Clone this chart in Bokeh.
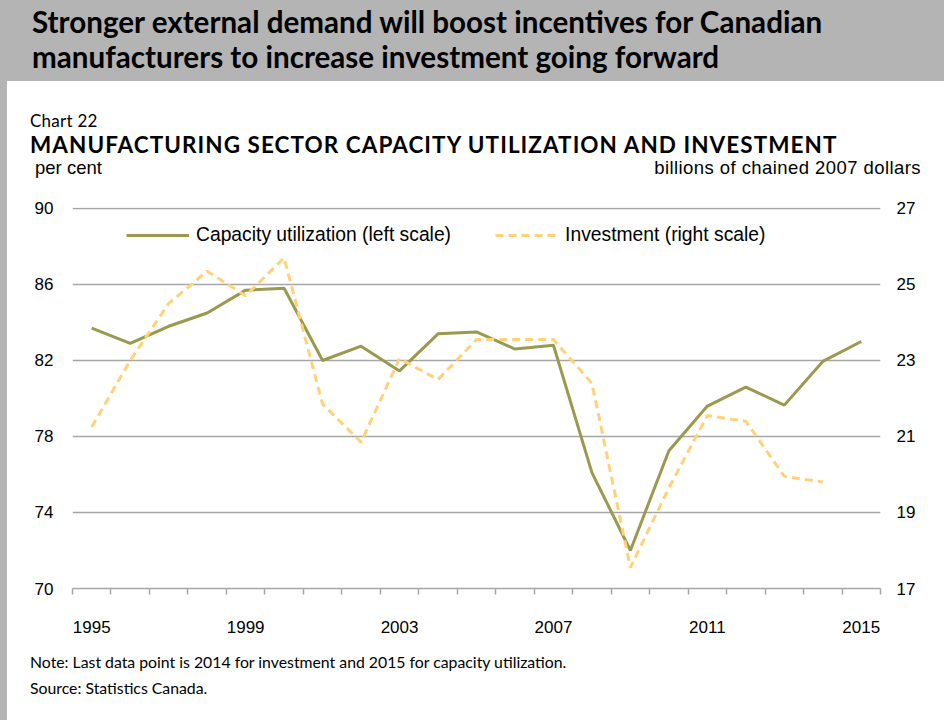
from bokeh.plotting import figure
from bokeh.models import Range1d, LinearAxis, FixedTicker, Div, Column
from bokeh.embed import file_html
from bokeh.resources import INLINE

years = list(range(1995, 2016))
capacity = [83.7, 82.9, 83.8, 84.5, 85.7, 85.8, 82.0, 82.75, 81.45, 83.4, 83.5,
            82.6, 82.8, 76.1, 72.0, 77.25, 79.6, 80.6, 79.65, 81.95, 83.0]
inv_years = list(range(1995, 2015))
investment = [21.25, 23.0, 24.5, 25.35, 24.7, 25.7, 21.85, 20.85, 23.05, 22.5,
              23.55, 23.55, 23.55, 22.4, 17.55, 19.65, 21.55, 21.4, 19.95, 19.8]
x_label_years = [1995, 1999, 2003, 2007, 2011, 2015]
left_ticks = [70, 74, 78, 82, 86, 90]
right_ticks = [17, 19, 21, 23, 25, 27]

header_lines = ["Stronger external demand will boost incentives for Canadian",
                "manufacturers to increase investment going forward"]
chart_no = "Chart 22"
chart_title = "MANUFACTURING SECTOR CAPACITY UTILIZATION AND INVESTMENT"
left_unit = "per cent"
right_unit = "billions of chained 2007 dollars"
note = "Note: Last data point is 2014 for investment and 2015 for capacity utilization."
source = "Source: Statistics Canada."

OLIVE = "#9a9a4e"
GOLD = "#ffd27a"
GRID = "#a6a6a6"
BAND = "#b4b4b4"
SANS = "Liberation Sans"
MYR = "Lato"


def span(text, left, top, size, font, weight="normal", right=None, ls=0):
    pos = f"right:{right}px;" if right is not None else f"left:{left}px;"
    return (f'<span style="position:absolute;{pos}top:{top}px;'
            f"font-family:'{font}';font-size:{size}px;font-weight:{weight};"
            f"letter-spacing:{ls}px;"
            f'line-height:1;white-space:nowrap;color:#000">{text}</span>')


def box(w, h, inner):
    return f'<div style="position:relative;width:{w}px;height:{h}px;overflow:visible">{inner}</div>'


# header band (page y 0..81)
hdr = Div(width=944, height=81, margin=0,
          text=box(944, 81,
                   span(header_lines[0], 32, 7, 29.6, MYR, "bold")
                   + span(header_lines[1], 32, 42, 29.6, MYR, "bold")))

# titles block (page y 81..190, page x from 7)
top_txt = Div(width=937, height=109, margin=0,
              text=box(937, 109,
                       span(chart_no, 23, 31.4, 17, MYR, ls=0.25)
                       + span(chart_title, 23, 52.5, 22.5, MYR, "bold", ls=1.05)
                       + span(left_unit, 28, 78.3, 18.5, SANS)
                       + span(right_unit, 0, 78.3, 18.5, SANS, right=23, ls=0.43)))

p = figure(width=937, height=460, output_backend="svg", toolbar_location=None,
           x_range=Range1d(1994.5, 2015.5), y_range=Range1d(70, 90.05),
           min_border_left=65, min_border_right=64, min_border_top=17,
           min_border_bottom=62, outline_line_color=None, margin=0)
p.extra_y_ranges = {"inv": Range1d(17, 27.025)}

p.xaxis.ticker = FixedTicker(ticks=x_label_years,
                             minor_ticks=[y - 0.5 for y in years] + [2015.5])
p.xaxis.major_tick_line_color = None
p.xaxis.major_tick_out = 0
p.xaxis.major_tick_in = 0
p.xaxis.minor_tick_line_color = GRID
p.xaxis.minor_tick_line_width = 1.5
p.xaxis.minor_tick_out = 6
p.xaxis.minor_tick_in = 0
p.xaxis.axis_line_color = GRID
p.xaxis.axis_line_width = 1.5
p.xaxis.major_label_standoff = 26
p.xaxis.major_label_text_font = SANS
p.xaxis.major_label_text_font_size = "17px"
p.xaxis.major_label_text_color = "#000000"

p.yaxis.ticker = FixedTicker(ticks=left_ticks)
p.yaxis.axis_line_color = None
p.yaxis.major_tick_line_color = None
p.yaxis.major_tick_out = 0
p.yaxis.major_tick_in = 0
p.yaxis.minor_tick_line_color = None
p.yaxis.major_label_standoff = 19
p.yaxis.major_label_text_font = SANS
p.yaxis.major_label_text_font_size = "17px"
p.yaxis.major_label_text_color = "#000000"

ra = LinearAxis(y_range_name="inv", ticker=FixedTicker(ticks=right_ticks),
                axis_line_color=None, major_tick_line_color=None,
                major_tick_out=0, major_tick_in=0,
                minor_tick_line_color=None, major_label_standoff=16,
                major_label_text_font=SANS, major_label_text_font_size="17px",
                major_label_text_color="#000000")
p.add_layout(ra, "right")

p.xgrid.grid_line_color = None
p.ygrid.ticker = FixedTicker(ticks=left_ticks)
p.ygrid.grid_line_color = GRID
p.ygrid.grid_line_width = 1.5

p.line(years, capacity, line_color=OLIVE, line_width=3,
       legend_label="Capacity utilization (left scale)")
p.line(inv_years, investment, line_color=GOLD, line_width=3, line_dash="8 5",
       y_range_name="inv", legend_label="Investment (right scale)")

lg = p.legend[0]
lg.orientation = "horizontal"
lg.location = (54, 342)
lg.padding = 0
lg.margin = 0
lg.spacing = 44
lg.glyph_width = 63
lg.glyph_height = 22
lg.label_standoff = 7
lg.border_line_color = None
lg.background_fill_alpha = 0
lg.label_text_font = SANS
lg.label_text_font_size = "19.3px"
lg.label_text_color = "#000000"

# notes block (page y 650..720)
bot_txt = Div(width=937, height=70, margin=0,
              text=box(937, 70,
                       span(note, 23, 4, 15.8, MYR)
                       + span(source, 23, 30, 15.8, MYR)))

body = Column(children=[top_txt, p, bot_txt], margin=(0, 0, 0, 7), spacing=0,
              styles={"background-color": "#ffffff"})
root = Column(children=[hdr, body], spacing=0, margin=0,
              styles={"background-color": BAND})

open("out.html", "w").write(file_html(root, INLINE))
